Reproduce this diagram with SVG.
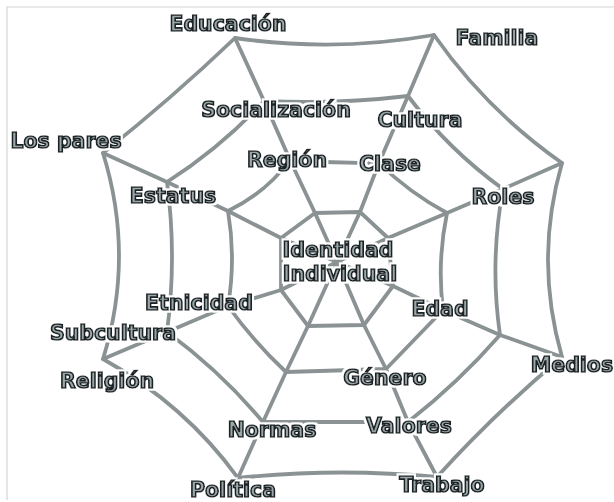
<svg xmlns="http://www.w3.org/2000/svg" width="614" height="502" viewBox="0 0 614 502">
<defs>
<filter id="halo" x="-15%" y="-40%" width="130%" height="180%">
<feMorphology in="SourceAlpha" operator="dilate" radius="2" result="d"/>
<feFlood flood-color="#ffffff"/>
<feComposite in2="d" operator="in" result="w"/>
<feMerge><feMergeNode in="w"/><feMergeNode in="SourceGraphic"/></feMerge>
</filter>
</defs>
<style>
.web{fill:none;stroke:#8b9294;stroke-width:3.8;stroke-linejoin:round;stroke-linecap:round}
.lbl{font-family:"DejaVu Sans","Liberation Sans",sans-serif;font-weight:bold;font-size:20.5px;fill:#9ba7a8;stroke:#1a2426;stroke-width:1.7;text-anchor:middle;filter:url(#halo)}
.frame{stroke:#d4d4d4;stroke-width:1.2;fill:none}
</style>
<rect width="614" height="502" fill="#ffffff"/>
<path class="frame" d="M7,500 L7,7 L614,7"/>
<g id="connectors">
<path class="web" d="M235,38 Q334.7,52.5 434,35 Q486.8,110.4 562,163 Q534,260 562,357 Q495.2,412.9 437,477 Q337.5,467.5 238,478 Q185.1,404.8 103,359 Q135,256 103,153 Q171.8,98.3 235,38 Z"/>
<path class="web" d="M264,101 Q336,104.5 408,96 Q448.5,149.6 503,189 Q489.5,262 500,335 Q458.2,382.8 408,422 L263,422 Q220.8,371.5 167,332 Q177,257 167,182 Q221.2,147.1 264,101 Z"/>
<path class="web" d="M290,160 Q334.5,163.5 379,163 Q408.7,192.2 447,213 Q437,261.5 443,310 L386,369 L286,372 Q254,342 228,306 Q236,258.5 228,211 Q266.2,192.5 290,160 Z"/>
<path class="web" d="M315,213 L360,212 L388,238 L393,286 L364,325 L308,326 L281,290 L281,238 Z"/>
<polyline class="web" points="337,262 315,213 290,160 264,101 235,38"/>
<polyline class="web" points="337,262 360,212 379,163 408,96 434,35"/>
<polyline class="web" points="337,262 388,238 447,213 503,189 562,163"/>
<polyline class="web" points="337,262 393,286 443,310 500,335 562,357"/>
<polyline class="web" points="337,262 364,325 386,369 408,422 437,477"/>
<polyline class="web" points="337,262 308,326 286,372 263,422 238,478"/>
<polyline class="web" points="337,262 281,290 228,306 167,332 103,359"/>
<polyline class="web" points="337,262 281,238 228,211 167,182 103,153"/>
</g>
<g id="educacion"><text class="lbl" x="228" y="31">Educación</text></g>
<g id="familia"><text class="lbl" x="497" y="45">Familia</text></g>
<g id="socializacion"><text class="lbl" x="276" y="117">Socialización</text></g>
<g id="cultura"><text class="lbl" x="420" y="127">Cultura</text></g>
<g id="los-pares"><text class="lbl" x="66" y="148">Los pares</text></g>
<g id="region"><text class="lbl" x="287" y="167">Región</text></g>
<g id="clase"><text class="lbl" x="390" y="171">Clase</text></g>
<g id="estatus"><text class="lbl" x="173" y="203">Estatus</text></g>
<g id="roles"><text class="lbl" x="503" y="204">Roles</text></g>
<g id="identidad-individual"><text class="lbl" x="338" y="257">Identidad<tspan x="340" y="281">Individual</tspan></text></g>
<g id="etnicidad"><text class="lbl" x="199" y="310">Etnicidad</text></g>
<g id="edad"><text class="lbl" x="440" y="316">Edad</text></g>
<g id="subcultura"><text class="lbl" x="113" y="340">Subcultura</text></g>
<g id="medios"><text class="lbl" x="572" y="372">Medios</text></g>
<g id="religion"><text class="lbl" x="107" y="388">Religión</text></g>
<g id="genero"><text class="lbl" x="385" y="385">Género</text></g>
<g id="normas"><text class="lbl" x="272" y="437">Normas</text></g>
<g id="valores"><text class="lbl" x="409" y="433">Valores</text></g>
<g id="trabajo"><text class="lbl" x="442" y="492">Trabajo</text></g>
<g id="politica"><text class="lbl" x="233" y="497">Política</text></g>
</svg>
